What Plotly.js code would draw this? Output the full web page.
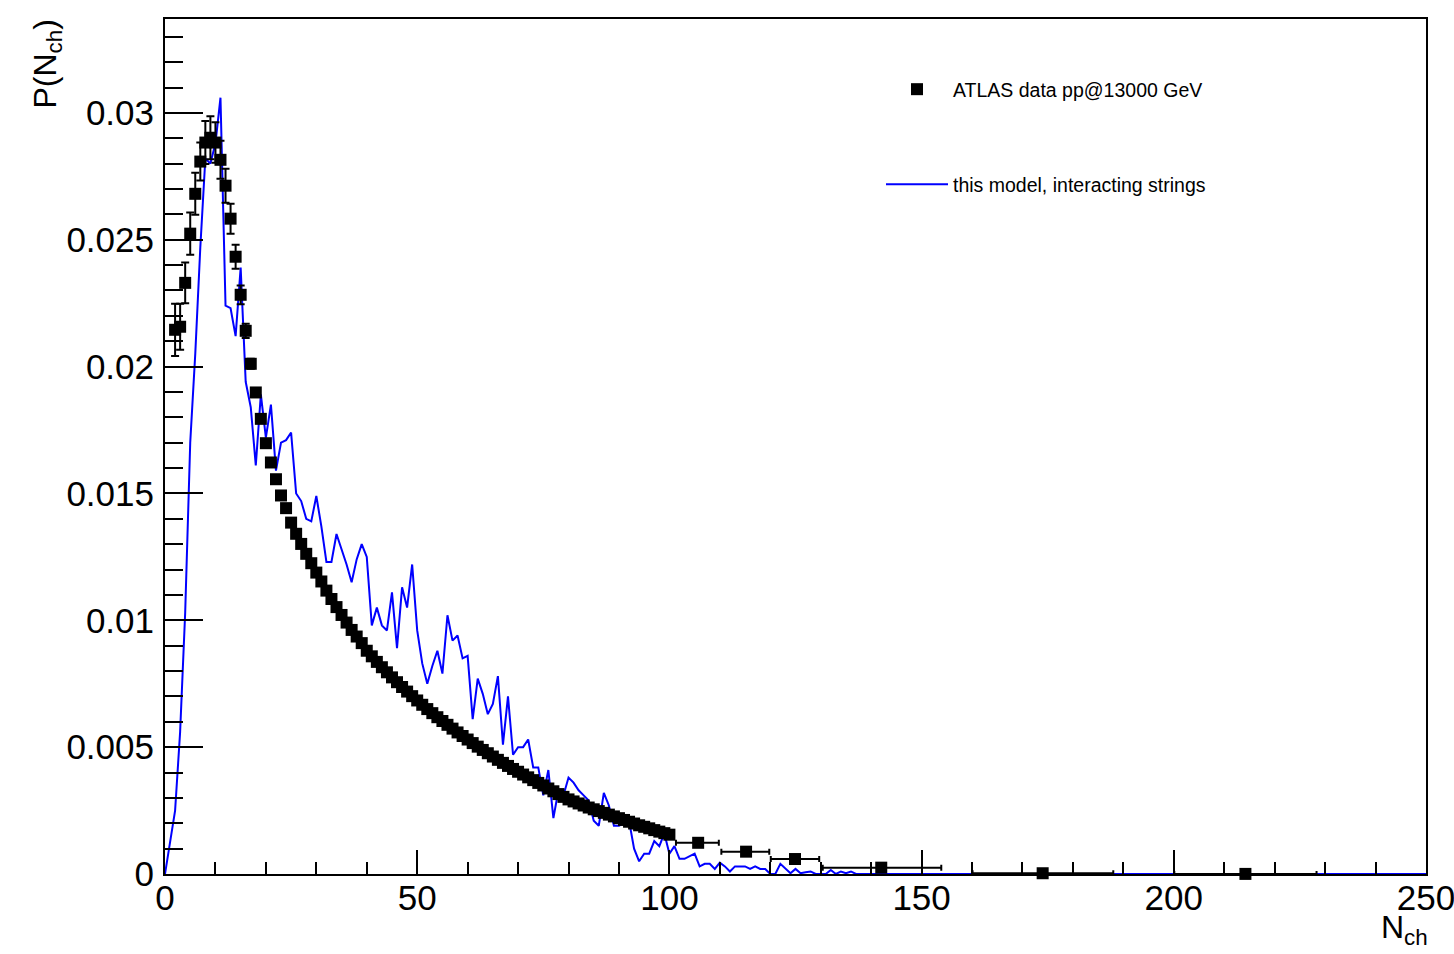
<!DOCTYPE html>
<html>
<head>
<meta charset="utf-8">
<script src="https://cdn.plot.ly/plotly-3.0.1.min.js"></script>
<style>
  html, body { margin: 0; padding: 0; background: #ffffff; }
  #chart { width: 1454px; height: 954px; }
</style>
</head>
<body>
<div id="chart"></div>
<script>
// Charged-particle multiplicity distribution P(N_ch)

// ATLAS data, unit-width bins N_ch = 2 ... 100
const atlasFirstN = 2;
const atlasP = [
  0.02145, 0.02157, 0.02330, 0.02524, 0.02681, 0.02808, 0.02883, 0.02902, 0.02883, 0.02815,
  0.02713, 0.02583, 0.02433, 0.02283, 0.02141, 0.02011, 0.01898, 0.01794, 0.01698, 0.01622,
  0.01556, 0.01492, 0.01442, 0.01385, 0.01341, 0.01301, 0.01262, 0.01225, 0.01188, 0.01153,
  0.01117, 0.01084, 0.01052, 0.01021, 0.00991, 0.00962, 0.00936, 0.00910, 0.00880, 0.00858,
  0.00836, 0.00815, 0.00795, 0.00775, 0.00756, 0.00737, 0.00719, 0.00701, 0.00684, 0.00667,
  0.00650, 0.00634, 0.00618, 0.00603, 0.00588, 0.00573, 0.00558, 0.00544, 0.00530, 0.00516,
  0.00502, 0.00489, 0.00476, 0.00463, 0.00450, 0.00438, 0.00426, 0.00414, 0.00403, 0.00392,
  0.00381, 0.00370, 0.00359, 0.00349, 0.00337, 0.00326, 0.00315, 0.00304, 0.00294, 0.00286,
  0.00278, 0.00270, 0.00262, 0.00255, 0.00248, 0.00241, 0.00234, 0.00227, 0.00220, 0.00213,
  0.00206, 0.00199, 0.00192, 0.00186, 0.00180, 0.00173, 0.00167, 0.00161, 0.00155
];
const atlasErr = [
  0.00103, 0.00091, 0.00080, 0.00083, 0.00083, 0.00075, 0.00085, 0.00085, 0.00080, 0.00075,
  0.00067, 0.00059, 0.00047, 0.00037, 0.00028, 0.00020, 0.00018, 0.00016, 0.00015, 0.00014,
  0.00013, 0.00012, 0.00012, 0.00011, 0.00011, 0.00010, 0.00010, 0.00010, 0.00009, 0.00009,
  0.00009, 0.00009, 0.00008, 0.00008, 0.00008, 0.00008, 0.00008, 0.00007, 0.00007, 0.00007,
  0.00007, 0.00007, 0.00007, 0.00006, 0.00006, 0.00006, 0.00006, 0.00006, 0.00006, 0.00006,
  0.00005, 0.00005, 0.00005, 0.00005, 0.00005, 0.00005, 0.00005, 0.00005, 0.00004, 0.00004,
  0.00004, 0.00004, 0.00004, 0.00004, 0.00004, 0.00004, 0.00004, 0.00004, 0.00003, 0.00003,
  0.00003, 0.00003, 0.00003, 0.00003, 0.00003, 0.00003, 0.00003, 0.00003, 0.00003, 0.00003,
  0.00003, 0.00003, 0.00003, 0.00003, 0.00002, 0.00002, 0.00002, 0.00002, 0.00002, 0.00002,
  0.00002, 0.00002, 0.00002, 0.00002, 0.00002, 0.00002, 0.00002, 0.00002, 0.00002
];

// ATLAS data, wide bins in the tail (bin mean, value, bin half-widths)
const wideN  = [105.7, 115.2, 124.9, 142.0, 174.0, 214.2];
const wideP  = [0.00123, 0.00088, 0.00059, 0.00025, 0.00003, 0.000004];
const wideLo = [4.4, 4.9, 4.8, 11.6, 13.9, 14.1];
const wideHi = [4.1, 4.6, 4.8, 11.9, 14.0, 14.1];

// Model with interacting strings, one value per N_ch = 0 ... 250
const modelP = [
  0.00000, 0.00120, 0.00250, 0.00560, 0.01030, 0.01700, 0.02050, 0.02470, 0.02820, 0.02800,
  0.02880, 0.03060, 0.02240, 0.02230, 0.02120, 0.02390, 0.01940, 0.01840, 0.01610, 0.01890,
  0.01720, 0.01850, 0.01590, 0.01700, 0.01710, 0.01740, 0.01500, 0.01470, 0.01400, 0.01390,
  0.01490, 0.01370, 0.01230, 0.01230, 0.01340, 0.01280, 0.01220, 0.01150, 0.01240, 0.01300,
  0.01250, 0.00980, 0.01050, 0.00980, 0.00960, 0.01110, 0.00890, 0.01130, 0.01050, 0.01220,
  0.00960, 0.00830, 0.00750, 0.00820, 0.00880, 0.00790, 0.01020, 0.00920, 0.00940, 0.00850,
  0.00860, 0.00610, 0.00770, 0.00710, 0.00630, 0.00670, 0.00780, 0.00510, 0.00700, 0.00470,
  0.00500, 0.00500, 0.00530, 0.00420, 0.00420, 0.00310, 0.00410, 0.00220, 0.00330, 0.00310,
  0.00380, 0.00360, 0.00330, 0.00310, 0.00290, 0.00210, 0.00190, 0.00320, 0.00270, 0.00190,
  0.00190, 0.00200, 0.00210, 0.00100, 0.00050, 0.00080, 0.00080, 0.00130, 0.00110, 0.00160,
  0.00080, 0.00110, 0.00060, 0.00060, 0.00070, 0.00080, 0.00030, 0.00040, 0.00040, 0.00020,
  0.00045, 0.00030, 0.00010, 0.00030, 0.00030, 0.00030, 0.00020, 0.00030, 0.00020, 0.00020,
  0.00000, 0.00000, 0.00040, 0.00020, 0.00003, 0.00020, 0.00003, 0.00007, 0.00010, 0.00000,
  0.00000, 0.00000, 0.00016, 0.00000, 0.00010, 0.00003, 0.00010, 0, 0, 0,
  0, 0, 0, 0, 0, 0, 0, 0, 0, 0,
  0, 0, 0, 0, 0, 0, 0, 0, 0, 0,
  0, 0, 0, 0, 0, 0, 0, 0, 0, 0,
  0, 0, 0, 0, 0, 0, 0, 0, 0, 0,
  0, 0, 0, 0, 0, 0, 0, 0, 0, 0,
  0, 0, 0, 0, 0, 0, 0, 0, 0, 0,
  0, 0, 0, 0, 0, 0, 0, 0, 0, 0,
  0, 0, 0, 0, 0, 0, 0, 0, 0, 0,
  0, 0, 0, 0, 0, 0, 0, 0, 0, 0,
  0, 0, 0, 0, 0, 0, 0, 0, 0, 0,
  0, 0, 0, 0, 0, 0, 0, 0, 0, 0,
  0
];

// Axis ticks
const xTickVals = [0, 50, 100, 150, 200, 250];
const xTickText = ['0', '50', '100', '150', '200', '250'];
const yTickVals = [0, 0.005, 0.01, 0.015, 0.02, 0.025, 0.03];
const yTickText = ['0', '0.005', '0.01', '0.015', '0.02', '0.025', '0.03'];

const seriesNames = ['ATLAS data pp@13000 GeV', 'this model, interacting strings'];

const atlasN = atlasP.map((_, i) => atlasFirstN + i);
const modelN = modelP.map((_, i) => i);

const FONT = 'Liberation Sans, Arial, Helvetica, sans-serif';

const traces = [
  {
    type: 'scatter', mode: 'lines',
    x: modelN, y: modelP,
    name: seriesNames[1],
    legend: 'legend2',
    line: { color: '#0000ff', width: 2 },
    hoverinfo: 'x+y'
  },
  {
    type: 'scatter', mode: 'markers',
    x: atlasN, y: atlasP,
    name: seriesNames[0],
    legend: 'legend',
    cliponaxis: false,
    marker: { symbol: 'square', size: 12, color: '#000000' },
    error_y: { type: 'data', array: atlasErr, visible: true, color: '#000000', thickness: 2, width: 4 }
  },
  {
    type: 'scatter', mode: 'markers',
    x: wideN, y: wideP,
    name: seriesNames[0],
    showlegend: false,
    cliponaxis: false,
    marker: { symbol: 'square', size: 12, color: '#000000' },
    error_x: { type: 'data', symmetric: false, array: wideHi, arrayminus: wideLo,
               visible: true, color: '#000000', thickness: 2, width: 3 }
  }
];

const plotH = 954 - 19 - 80;
const legendFont = { family: FONT, size: 19.5, color: '#000000' };
const legendLeft = (881 - 165) / 1261;

const layout = {
  width: 1454, height: 954,
  margin: { l: 165, r: 28, t: 19, b: 80, pad: 0 },
  paper_bgcolor: '#ffffff', plot_bgcolor: '#ffffff',
  font: { family: FONT, color: '#000000' },
  showlegend: true,
  xaxis: {
    range: [0, 250],
    showline: true, mirror: true, linecolor: '#000000', linewidth: 2,
    showgrid: false, zeroline: false,
    ticks: 'inside', ticklen: 24, tickwidth: 2, tickcolor: '#000000',
    tickmode: 'array', tickvals: xTickVals, ticktext: xTickText,
    tickfont: { family: FONT, size: 35, color: '#000000' },
    ticklabelstandoff: -8,
    ticklabeloverflow: 'allow',
    minor: { ticks: 'inside', ticklen: 12, tickwidth: 2, tickcolor: '#000000', dtick: 10, showgrid: false }
  },
  yaxis: {
    range: [0, 0.0337],
    showline: true, mirror: true, linecolor: '#000000', linewidth: 2,
    showgrid: false, zeroline: false,
    ticks: 'inside', ticklen: 38, tickwidth: 2, tickcolor: '#000000',
    tickmode: 'array', tickvals: yTickVals, ticktext: yTickText,
    tickfont: { family: FONT, size: 35, color: '#000000' },
    ticklabelstandoff: 2,
    ticklabeloverflow: 'allow',
    minor: { ticks: 'inside', ticklen: 18, tickwidth: 2, tickcolor: '#000000', dtick: 0.001, showgrid: false }
  },
  legend: {
    x: legendLeft, xanchor: 'left',
    y: 1 - (70 - 19) / plotH, yanchor: 'top',
    itemwidth: 62,
    bgcolor: 'rgba(0,0,0,0)', borderwidth: 0, font: legendFont
  },
  legend2: {
    x: legendLeft, xanchor: 'left',
    y: 1 - (165 - 19) / plotH, yanchor: 'top',
    itemwidth: 62,
    bgcolor: 'rgba(0,0,0,0)', borderwidth: 0, font: legendFont
  },
  annotations: [
    {
      xref: 'paper', yref: 'paper',
      x: (47 - 165) / 1261, y: 1 + 1 / plotH,
      xanchor: 'center', yanchor: 'top',
      textangle: -90, showarrow: false,
      text: 'P(N<sub>ch</sub>)',
      font: { family: FONT, size: 32, color: '#000000' }
    },
    {
      xref: 'paper', yref: 'paper',
      x: (1430 - 165) / 1261, y: -(930 - 874) / plotH,
      xanchor: 'right', yanchor: 'middle',
      showarrow: false,
      text: 'N<sub>ch</sub>',
      font: { family: FONT, size: 32, color: '#000000' }
    }
  ]
};

Plotly.newPlot('chart', traces, layout, { staticPlot: true, displayModeBar: false });
</script>
</body>
</html>
